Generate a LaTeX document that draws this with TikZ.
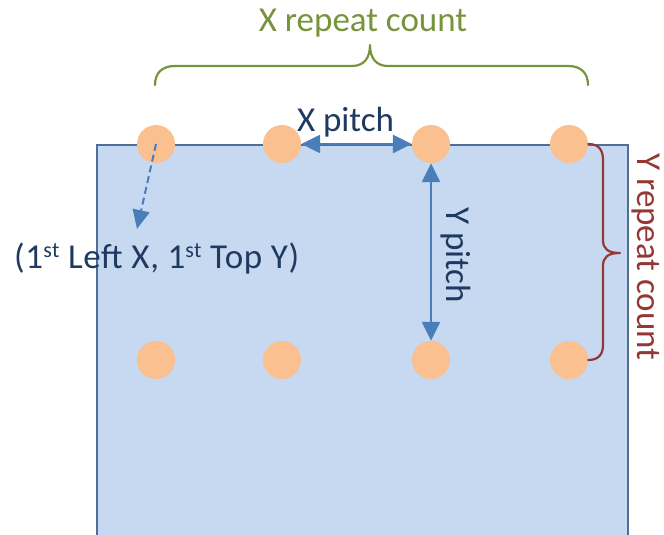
\documentclass[tikz,border=0pt]{standalone}
\usepackage{fontspec}
\setmainfont{Carlito}
\newfontfamily\widefont[LetterSpace=2]{Carlito}
\usetikzlibrary{arrows.meta}
\definecolor{rectfill}{HTML}{C6D9F1}
\definecolor{rectline}{HTML}{4F6E98}
\definecolor{dotfill}{HTML}{FAC090}
\definecolor{arrowblue}{HTML}{4A7EBB}
\definecolor{navytext}{HTML}{1F3A60}
\definecolor{bracegreen}{HTML}{77933C}
\definecolor{bracered}{HTML}{953735}
\newcommand{\supst}{\raisebox{11pt}{\fontsize{22}{22}\selectfont st}}
\tikzset{
  dot/.style={circle, fill=dotfill, inner sep=0pt, minimum size=38pt},
  lbl/.style={inner sep=0pt, font=\fontsize{35}{40}\selectfont},
  pitcharrow/.style={arrowblue, line width=2.5pt, {Triangle[length=19pt,width=18pt]}-{Triangle[length=19pt,width=18pt]}},
  originarrow/.style={arrowblue, line width=2pt, dash pattern=on 7pt off 4pt, -{Triangle[length=19pt,width=17pt]}},
  bracestyle/.style={line width=2.2pt, line cap=round, line join=round}
}
\begin{document}
\begin{tikzpicture}[x=1pt,y=-1pt]
\useasboundingbox (0,0) rectangle (664,535);
% plate
\fill[rectfill] (97,145) rectangle (628,536);
\draw[rectline, line width=1.2pt] (97,536) -- (97,145) -- (628,145) -- (628,536);
% dots
\node[dot] (c11) at (156,144) {};
\node[dot] (c12) at (282,144) {};
\node[dot] (c13) at (431,144) {};
\node[dot] (c14) at (569,144) {};
\node[dot] (c21) at (156,360) {};
\node[dot] (c22) at (282,360) {};
\node[dot] (c23) at (431,360) {};
\node[dot] (c24) at (569,360) {};
% pitch arrows
\draw[pitcharrow] (c12.east) -- (c13.west);
\draw[pitcharrow] (c13.south) -- (c23.north);
% origin arrow
\coordinate (otip) at (137,229);
\draw[originarrow] (c11.center) -- (otip);
% labels
\node[lbl, text=bracegreen, anchor=base] (xrc) at (363,32) {X repeat count};
\node[lbl, text=navytext, anchor=base] (xp) at (345.5,131) {X pitch};
\node[lbl, text=navytext, anchor=base west] (orig) at (14,268) {\widefont(1\supst{} Left X, 1\supst{} Top Y)};
\node[lbl, text=navytext, rotate=-90] (yp) at (456,255) {Y pitch};
\node[lbl, text=bracered, rotate=-90] (yrc) at (646,257) {Y repeat count};
% X brace
\draw[bracestyle, bracegreen] (155,85) .. controls (155,73) and (162,66) .. (175,66)
  -- (352,66) .. controls (364,66) and (370,58) .. (370,45)
  .. controls (370,58) and (376,66) .. (388,66)
  -- (568,66) .. controls (581,66) and (588,73) .. (588,85);
% Y brace
\draw[bracestyle, bracered] (c14.east) .. controls (598,144) and (603,149) .. (603,160)
  -- (603,240) .. controls (603,249) and (608,253) .. (620,253)
  .. controls (608,253) and (603,257) .. (603,266)
  -- (603,345) .. controls (603,355) and (598,360) .. (c24.east);
\end{tikzpicture}
\end{document}
